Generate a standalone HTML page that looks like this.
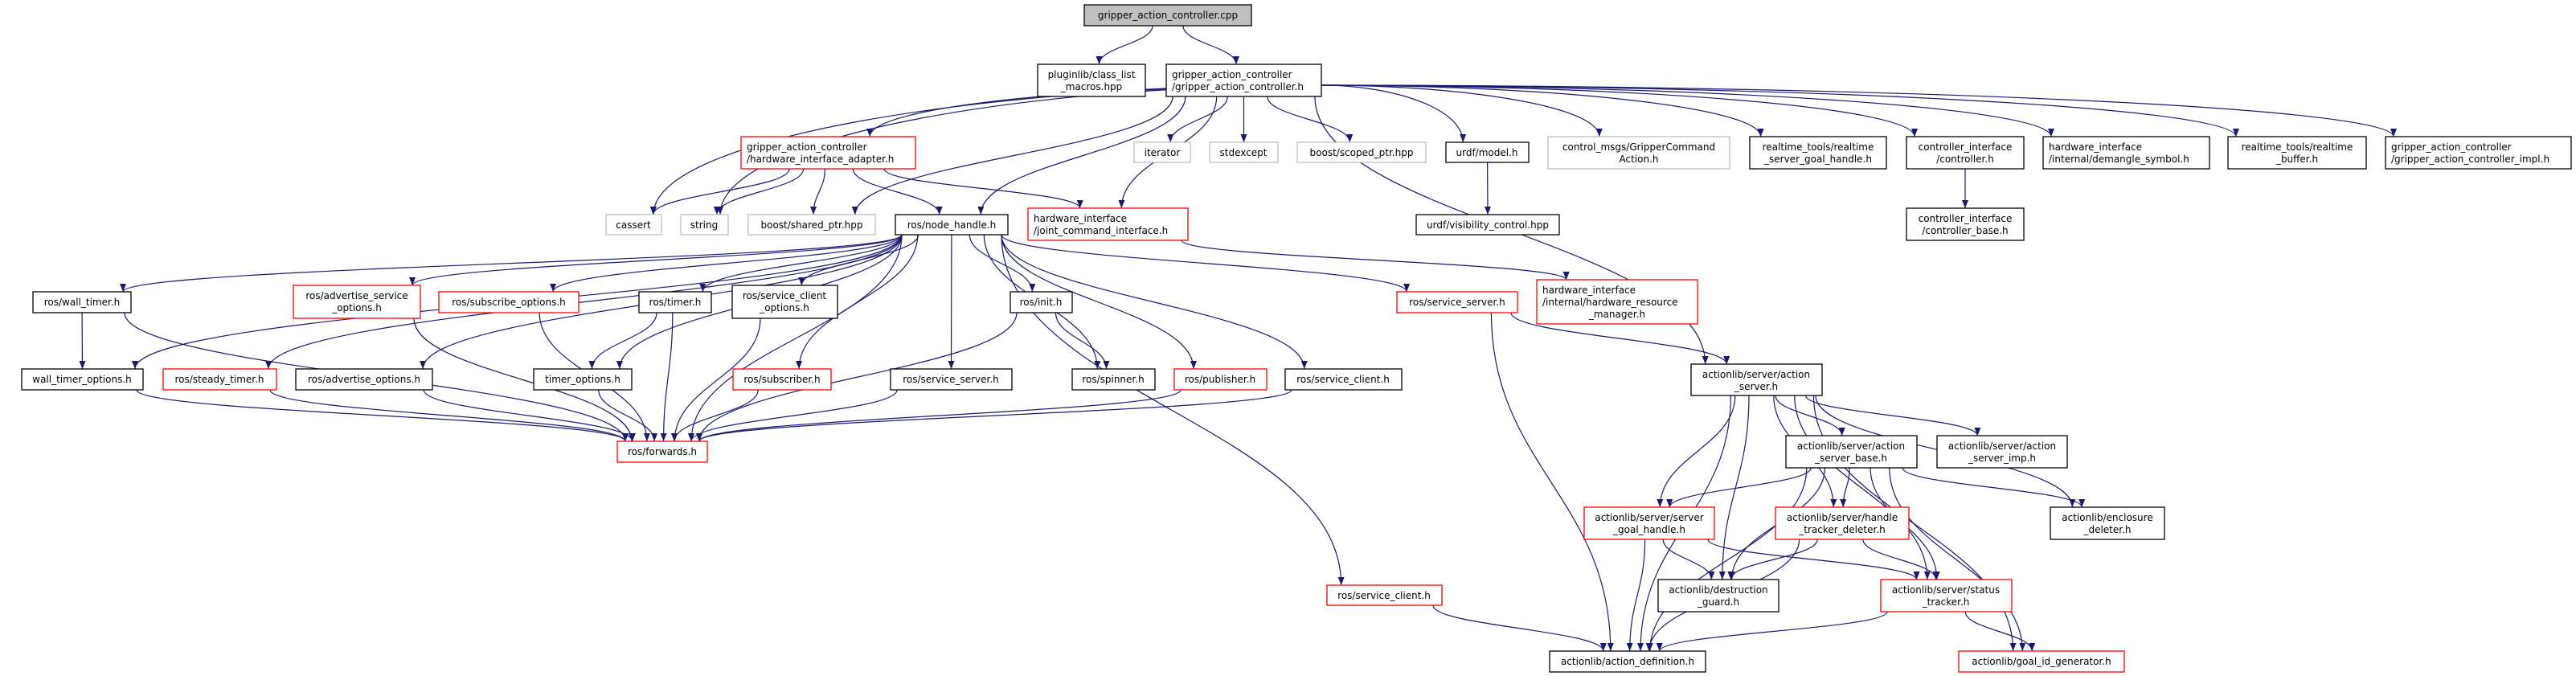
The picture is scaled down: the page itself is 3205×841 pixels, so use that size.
<!DOCTYPE html>
<html><head><meta charset="utf-8">
<style>
html,body{margin:0;padding:0;background:#fff;}
svg{display:block;}
text{font-family:"DejaVu Sans","Liberation Sans",sans-serif;font-size:12px;fill:#000;}
</style></head>
<body>
<svg id="g" width="3205" height="841" viewBox="0 0 3205 841" xmlns="http://www.w3.org/2000/svg">
<defs><marker id="ah" markerWidth="10" markerHeight="8" refX="10" refY="4" orient="auto" markerUnits="userSpaceOnUse"><path d="M0,0 L10,4 L0,8 z" fill="#191970"/></marker></defs>
<g id="edges" fill="none" stroke="#191970" stroke-width="1.2"></g>
<g id="nodes" stroke-width="1.3">
<rect x="1349" y="6" width="208" height="26" fill="#bfbfbf" stroke="#000"/><text x="1453" y="23" text-anchor="middle">gripper_action_controller.cpp</text>
<rect x="1291" y="80" width="134" height="40" fill="#fff" stroke="#000"/><text x="1358" y="97" text-anchor="middle">pluginlib/class_list</text><text x="1358" y="112" text-anchor="middle">_macros.hpp</text>
<rect x="1451" y="80" width="193" height="40" fill="#fff" stroke="#000"/><text x="1458" y="97">gripper_action_controller</text><text x="1458" y="112">/gripper_action_controller.h</text>
<rect x="922" y="170" width="217" height="40" fill="#fff" stroke="#f00"/><text x="929" y="187">gripper_action_controller</text><text x="929" y="202">/hardware_interface_adapter.h</text>
<rect x="754" y="267" width="69" height="25" fill="#fff" stroke="#bfbfbf"/><text x="788" y="284" text-anchor="middle">cassert</text>
<rect x="847" y="267" width="59" height="25" fill="#fff" stroke="#bfbfbf"/><text x="876" y="284" text-anchor="middle">string</text>
<rect x="931" y="267" width="158" height="25" fill="#fff" stroke="#bfbfbf"/><text x="1010" y="284" text-anchor="middle">boost/shared_ptr.hpp</text>
<rect x="1411" y="177" width="70" height="25" fill="#fff" stroke="#bfbfbf"/><text x="1446" y="194" text-anchor="middle">iterator</text>
<rect x="1505" y="177" width="85" height="25" fill="#fff" stroke="#bfbfbf"/><text x="1547" y="194" text-anchor="middle">stdexcept</text>
<rect x="1614" y="177" width="160" height="25" fill="#fff" stroke="#bfbfbf"/><text x="1694" y="194" text-anchor="middle">boost/scoped_ptr.hpp</text>
<rect x="1799" y="177" width="103" height="25" fill="#fff" stroke="#000"/><text x="1850" y="194" text-anchor="middle">urdf/model.h</text>
<rect x="1926" y="170" width="226" height="40" fill="#fff" stroke="#bfbfbf"/><text x="2039" y="187" text-anchor="middle">control_msgs/GripperCommand</text><text x="2039" y="202" text-anchor="middle">Action.h</text>
<rect x="2177" y="170" width="170" height="40" fill="#fff" stroke="#000"/><text x="2262" y="187" text-anchor="middle">realtime_tools/realtime</text><text x="2262" y="202" text-anchor="middle">_server_goal_handle.h</text>
<rect x="2372" y="170" width="146" height="40" fill="#fff" stroke="#000"/><text x="2445" y="187" text-anchor="middle">controller_interface</text><text x="2445" y="202" text-anchor="middle">/controller.h</text>
<rect x="2542" y="170" width="207" height="40" fill="#fff" stroke="#000"/><text x="2549" y="187">hardware_interface</text><text x="2549" y="202">/internal/demangle_symbol.h</text>
<rect x="2772" y="170" width="172" height="40" fill="#fff" stroke="#000"/><text x="2858" y="187" text-anchor="middle">realtime_tools/realtime</text><text x="2858" y="202" text-anchor="middle">_buffer.h</text>
<rect x="2968" y="170" width="231" height="40" fill="#fff" stroke="#000"/><text x="2975" y="187">gripper_action_controller</text><text x="2975" y="202">/gripper_action_controller_impl.h</text>
<rect x="1114" y="267" width="140" height="25" fill="#fff" stroke="#000"/><text x="1184" y="284" text-anchor="middle">ros/node_handle.h</text>
<rect x="1279" y="259" width="199" height="40" fill="#fff" stroke="#f00"/><text x="1286" y="276">hardware_interface</text><text x="1286" y="291">/joint_command_interface.h</text>
<rect x="1762" y="267" width="178" height="25" fill="#fff" stroke="#000"/><text x="1851" y="284" text-anchor="middle">urdf/visibility_control.hpp</text>
<rect x="2372" y="259" width="146" height="40" fill="#fff" stroke="#000"/><text x="2445" y="276" text-anchor="middle">controller_interface</text><text x="2445" y="291" text-anchor="middle">/controller_base.h</text>
<rect x="41" y="363" width="122" height="26" fill="#fff" stroke="#000"/><text x="102" y="380" text-anchor="middle">ros/wall_timer.h</text>
<rect x="365" y="355" width="158" height="41" fill="#fff" stroke="#f00"/><text x="444" y="372" text-anchor="middle">ros/advertise_service</text><text x="444" y="387" text-anchor="middle">_options.h</text>
<rect x="546" y="363" width="174" height="26" fill="#fff" stroke="#f00"/><text x="633" y="380" text-anchor="middle">ros/subscribe_options.h</text>
<rect x="795" y="363" width="90" height="26" fill="#fff" stroke="#000"/><text x="840" y="380" text-anchor="middle">ros/timer.h</text>
<rect x="911" y="355" width="131" height="41" fill="#fff" stroke="#000"/><text x="976" y="372" text-anchor="middle">ros/service_client</text><text x="976" y="387" text-anchor="middle">_options.h</text>
<rect x="1257" y="363" width="77" height="26" fill="#fff" stroke="#000"/><text x="1295" y="380" text-anchor="middle">ros/init.h</text>
<rect x="1738" y="363" width="150" height="26" fill="#fff" stroke="#f00"/><text x="1813" y="380" text-anchor="middle">ros/service_server.h</text>
<rect x="1912" y="348" width="200" height="55" fill="#fff" stroke="#f00"/><text x="1919" y="365">hardware_interface</text><text x="1919" y="380">/internal/hardware_resource</text><text x="2012" y="395" text-anchor="middle">_manager.h</text>
<rect x="27" y="459" width="151" height="26" fill="#fff" stroke="#000"/><text x="102" y="476" text-anchor="middle">wall_timer_options.h</text>
<rect x="203" y="459" width="141" height="26" fill="#fff" stroke="#f00"/><text x="273" y="476" text-anchor="middle">ros/steady_timer.h</text>
<rect x="368" y="459" width="170" height="26" fill="#fff" stroke="#000"/><text x="453" y="476" text-anchor="middle">ros/advertise_options.h</text>
<rect x="664" y="459" width="122" height="26" fill="#fff" stroke="#000"/><text x="725" y="476" text-anchor="middle">timer_options.h</text>
<rect x="912" y="459" width="122" height="26" fill="#fff" stroke="#f00"/><text x="973" y="476" text-anchor="middle">ros/subscriber.h</text>
<rect x="1108" y="459" width="151" height="26" fill="#fff" stroke="#000"/><text x="1183" y="476" text-anchor="middle">ros/service_server.h</text>
<rect x="1334" y="459" width="103" height="26" fill="#fff" stroke="#000"/><text x="1385" y="476" text-anchor="middle">ros/spinner.h</text>
<rect x="1461" y="459" width="115" height="26" fill="#fff" stroke="#f00"/><text x="1518" y="476" text-anchor="middle">ros/publisher.h</text>
<rect x="1599" y="459" width="145" height="26" fill="#fff" stroke="#000"/><text x="1671" y="476" text-anchor="middle">ros/service_client.h</text>
<rect x="2104" y="453" width="163" height="39" fill="#fff" stroke="#000"/><text x="2185" y="470" text-anchor="middle">actionlib/server/action</text><text x="2185" y="485" text-anchor="middle">_server.h</text>
<rect x="768" y="549" width="112" height="26" fill="#fff" stroke="#f00"/><text x="824" y="566" text-anchor="middle">ros/forwards.h</text>
<rect x="2222" y="542" width="163" height="40" fill="#fff" stroke="#000"/><text x="2303" y="559" text-anchor="middle">actionlib/server/action</text><text x="2303" y="574" text-anchor="middle">_server_base.h</text>
<rect x="2410" y="542" width="162" height="40" fill="#fff" stroke="#000"/><text x="2491" y="559" text-anchor="middle">actionlib/server/action</text><text x="2491" y="574" text-anchor="middle">_server_imp.h</text>
<rect x="1971" y="631" width="162" height="40" fill="#fff" stroke="#f00"/><text x="2052" y="648" text-anchor="middle">actionlib/server/server</text><text x="2052" y="663" text-anchor="middle">_goal_handle.h</text>
<rect x="2209" y="631" width="166" height="40" fill="#fff" stroke="#f00"/><text x="2292" y="648" text-anchor="middle">actionlib/server/handle</text><text x="2292" y="663" text-anchor="middle">_tracker_deleter.h</text>
<rect x="2551" y="631" width="142" height="40" fill="#fff" stroke="#000"/><text x="2622" y="648" text-anchor="middle">actionlib/enclosure</text><text x="2622" y="663" text-anchor="middle">_deleter.h</text>
<rect x="1651" y="728" width="143" height="25" fill="#fff" stroke="#f00"/><text x="1722" y="745" text-anchor="middle">ros/service_client.h</text>
<rect x="2063" y="721" width="150" height="40" fill="#fff" stroke="#000"/><text x="2138" y="738" text-anchor="middle">actionlib/destruction</text><text x="2138" y="753" text-anchor="middle">_guard.h</text>
<rect x="2340" y="721" width="163" height="40" fill="#fff" stroke="#f00"/><text x="2421" y="738" text-anchor="middle">actionlib/server/status</text><text x="2421" y="753" text-anchor="middle">_tracker.h</text>
<rect x="1928" y="810" width="194" height="26" fill="#fff" stroke="#000"/><text x="2025" y="827" text-anchor="middle">actionlib/action_definition.h</text>
<rect x="2437" y="810" width="206" height="26" fill="#fff" stroke="#f00"/><text x="2540" y="827" text-anchor="middle">actionlib/goal_id_generator.h</text>
</g>
</svg>
<script>
var N={A:[1349,6,1557,32],P:[1291,80,1425,120],G:[1451,80,1644,120],HIA:[922,170,1139,210],cas:[754,267,823,292],str:[847,267,906,292],shp:[931,267,1089,292],it:[1411,177,1481,202],se:[1505,177,1590,202],sc:[1614,177,1774,202],um:[1799,177,1902,202],cm:[1926,170,2152,210],rsg:[2177,170,2347,210],ci:[2372,170,2518,210],dm:[2542,170,2749,210],rb:[2772,170,2944,210],im:[2968,170,3199,210],nh:[1114,267,1254,292],jci:[1279,259,1478,299],vis:[1762,267,1940,292],cb:[2372,259,2518,299],wt:[41,363,163,389],aso:[365,355,523,396],so:[546,363,720,389],tm:[795,363,885,389],sco:[911,355,1042,396],ini:[1257,363,1334,389],ssr:[1738,363,1888,389],hrm:[1912,348,2112,403],wto:[27,459,178,485],st:[203,459,344,485],ao:[368,459,538,485],to:[664,459,786,485],sub:[912,459,1034,485],ss:[1108,459,1259,485],sp:[1334,459,1437,485],pub:[1461,459,1576,485],sc2:[1599,459,1744,485],as:[2104,453,2267,492],fw:[768,549,880,575],asb:[2222,542,2385,582],asi:[2410,542,2572,582],sgh:[1971,631,2133,671],htd:[2209,631,2375,671],enc:[2551,631,2693,671],scr:[1651,728,1794,753],dg:[2063,721,2213,761],stt:[2340,721,2503,761],ad:[1928,810,2122,836],gid:[2437,810,2643,836]};
var E=[["A","P"],["A","G"],
["G","HIA"],["G","cas"],["G","str"],["G","shp"],["G","nh"],["G","jci"],["G","it"],["G","se"],["G","sc"],["G","um"],["G","cm"],["G","rsg"],["G","ci"],["G","dm"],["G","rb"],["G","im"],["G","as"],
["HIA","cas"],["HIA","str"],["HIA","shp"],["HIA","nh"],["HIA","jci"],["um","vis"],["ci","cb"],["jci","hrm"],
["nh","wt"],["nh","wto"],["nh","st"],["nh","aso"],["nh","ao"],["nh","so"],["nh","tm"],["nh","to"],["nh","sco"],["nh","sub"],["nh","ss"],["nh","ini"],["nh","sp"],["nh","pub"],["nh","sc2"],["nh","ssr"],["nh","scr"],["nh","fw"],
["wt","wto"],["wt","fw"],["aso","fw"],["so","fw"],["tm","to"],["tm","fw"],["sco","fw"],["wto","fw"],["st","fw"],["ao","fw"],["to","fw"],["sub","fw"],["ss","fw"],["pub","fw"],["sc2","fw"],["ini","fw"],["ini","sp"],
["ssr","as"],["ssr","ad"],["scr","ad"],
["as","asb"],["as","asi"],["as","sgh"],["as","htd"],["as","enc"],["as","dg"],["as","stt"],["as","gid"],["as","ad"],
["asb","sgh"],["asb","htd"],["asb","dg"],["asb","stt"],["asb","gid"],["asb","enc"],["asb","ad"],
["sgh","dg"],["sgh","stt"],["sgh","ad"],["htd","dg"],["htd","stt"],["htd","ad"],["stt","ad"],["stt","gid"]];
function c(b){return[(b[0]+b[2])/2,(b[1]+b[3])/2];}
function cl(v,lo,hi){return Math.max(lo,Math.min(hi,v));}
function f(n){return n.toFixed(1);}
var g=document.getElementById('edges'),s='';
E.forEach(function(e){var a=N[e[0]],b=N[e[1]],pa=c(a),pb=c(b);
var dx=pb[0]-pa[0];
var p1x=cl(pa[0]+dx*0.2,a[0]+8,a[2]-8),p1y=a[3];
var p2x=cl(pb[0]-dx*0.1,b[0]+10,b[2]-10),p2y=b[1];
var dy=p2y-p1y;
if(dy<20){p2y=b[1];}
if(Math.abs(dx)>4*Math.max(dy,20)&&e[0]=="G"){p1x=a[2];p1y=(a[1]+a[3])/2+6;dy=p2y-p1y;
s+='<path d="M'+f(p1x)+','+f(p1y)+' C'+f(p1x+(p2x-p1x)*0.5)+','+f(p1y)+' '+f(p2x)+','+f(p2y-dy*0.6)+' '+f(p2x)+','+f(p2y)+'" marker-end="url(#ah)"/>';return;}
s+='<path d="M'+f(p1x)+','+f(p1y)+' C'+f(p1x)+','+f(p1y+dy*0.45)+' '+f(p2x)+','+f(p2y-dy*0.45)+' '+f(p2x)+','+f(p2y)+'" marker-end="url(#ah)"/>';});
g.innerHTML=s;
</script>
</body></html>
